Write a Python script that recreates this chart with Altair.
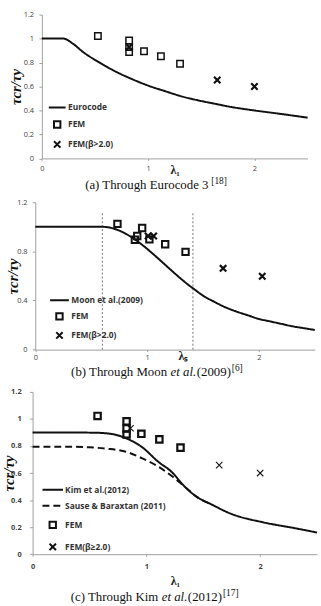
import altair as alt
import pandas as pd

# ---------------- data ----------------
X_TICKS = [0, 1, 2]
Y_TICKS = [0, 0.2, 0.4, 0.6, 0.8, 1.0, 1.2]

# (a) Eurocode 3
A_CURVE_X = [0.0, 0.2, 0.294, 0.387, 0.543, 0.698, 0.853, 1.008, 1.163, 1.318, 1.473, 1.628, 1.783, 2.0, 2.25, 2.5]
A_CURVE_Y = [1.0, 1.0, 0.956, 0.888, 0.80, 0.723, 0.66, 0.605, 0.56, 0.517, 0.484, 0.456, 0.429, 0.40, 0.371, 0.34]
A_FEM_X = [0.527, 0.821, 0.821, 0.821, 0.961, 1.12, 1.30]
A_FEM_Y = [1.022, 0.984, 0.93, 0.888, 0.894, 0.852, 0.79]
A_BETA_X = [0.821, 1.65, 2.0]
A_BETA_Y = [0.93, 0.654, 0.60]
A_SERIES = ["Eurocode", "FEM", "FEM(β>2.0)"]

# (b) Moon et al. (2009)
B_CURVE_X = [0.0, 0.6, 1.41, 1.5, 1.6, 1.7, 1.8, 1.9, 2.0, 2.1, 2.2, 2.3, 2.4, 2.5]
B_CURVE_Y = [1.0, 1.0, 0.50, 0.44, 0.39, 0.345, 0.31, 0.28, 0.25, 0.23, 0.21, 0.19, 0.175, 0.16]
B_FEM_X = [0.735, 0.956, 0.912, 0.891, 1.021, 1.162, 1.344]
B_FEM_Y = [1.024, 0.99, 0.925, 0.895, 0.898, 0.858, 0.796]
B_BETA_X = [1.009, 1.059, 1.68, 2.03]
B_BETA_Y = [0.925, 0.925, 0.662, 0.598]
B_LIMIT_X = [0.6, 1.41]
B_LIMIT_TOP = [1.12, 1.12]
B_SERIES = ["Moon et al.(2009)", "FEM", "FEM(β>2.0)"]

# (c) Kim et al. (2012)
C_KIM_X = [0.0, 0.3, 0.557, 0.701, 0.83, 0.96, 1.105, 1.22, 1.336, 1.45, 1.567, 1.74, 2.03, 2.32, 2.5]
C_KIM_Y = [0.9, 0.9, 0.898, 0.888, 0.854, 0.793, 0.683, 0.61, 0.5, 0.42, 0.37, 0.30, 0.235, 0.19, 0.16]
C_SAUSE_X = [0.0, 0.3, 0.5, 0.65, 0.83, 0.96, 1.105, 1.22, 1.336, 1.45, 1.567]
C_SAUSE_Y = [0.795, 0.795, 0.79, 0.78, 0.755, 0.71, 0.647, 0.58, 0.5, 0.42, 0.37]
C_FEM_X = [0.571, 0.826, 0.826, 0.826, 0.956, 1.114, 1.30]
C_FEM_Y = [1.022, 0.982, 0.93, 0.885, 0.89, 0.849, 0.788]
C_BETA_X = [0.86, 1.64, 2.0]
C_BETA_Y = [0.931, 0.659, 0.60]
C_SERIES = ["Kim et al.(2012)", "Sause & Baraxtan (2011)", "FEM", "FEM(β≥2.0)"]

XPATH = "M-1,-1L1,1M-1,1L1,-1"
SYM = 42
SERIF = "Liberation Serif"
SANS = "Open Sans"
O = 32.3  # common left origin of the concat cells


def line_path(half):
    return f"M-{half},0L{half},0"


def xy(xs, ys, name):
    return pd.DataFrame({"x": xs, "y": ys, "series": [name] * len(xs)})


def build_panel(W, H, shift, top, bottom, curves, fem, beta, series, shapes, dashes,
                fem_sw, beta_sw, leg, xaxis, yaxis, captions, extra_fn=None):
    xs = alt.Scale(domain=[0, 2.5], nice=False, zero=False, range=[shift, shift + W])
    ys = alt.Scale(domain=[0, 1.2], nice=False)
    x = alt.X("x:Q", scale=xs, axis=alt.Axis(
        values=X_TICKS, format="d", title=xaxis["title"], titleX=xaxis["tx"] + shift, titleY=xaxis["ty"],
        titleAlign="center", titleBaseline="middle", titleFont=SERIF, titleFontSize=12,
        titleFontWeight="bold", titleColor="#222", labelFont=SANS, labelFontSize=7.5,
        labelFontWeight=xaxis.get("lw", "normal"),
        labelColor="#444", labelPadding=xaxis["lp"], labelFlush=False, domainColor="#a0a0a0",
        tickColor="#a0a0a0", tickSize=2, grid=False))
    y = alt.Y("y:Q", scale=ys, axis=alt.Axis(
        values=Y_TICKS, format=".1~f", title="τcr/τy", titleX=yaxis["tx"], titleBaseline="middle",
        titleFont=SERIF, titleFontSize=15, titleFontStyle="italic", titleFontWeight="bold",
        titleColor="#111", labelFont=SANS, labelFontSize=7.5, labelFontWeight=yaxis.get("lw", "normal"),
        labelColor="#444", labelPadding=yaxis["lp"], domainColor="#a0a0a0", tickColor="#a0a0a0",
        tickSize=3, grid=False, offset=-shift))
    lg = alt.Legend(title=None, orient="none", legendX=leg["x"] + shift, legendY=leg["y"], padding=0,
                    rowPadding=leg["rp"], labelOffset=leg["lo"], labelFont=SANS, labelFontSize=8.5,
                    labelFontWeight="bold", labelColor="#333", labelLimit=200,
                    symbolStrokeWidth=leg.get("sw", 2), symbolStrokeColor="#111", symbolSize=SYM)
    shape = alt.Shape("series:N", scale=alt.Scale(domain=series, range=shapes), legend=lg)
    dash = alt.StrokeDash("series:N", scale=alt.Scale(domain=series, range=dashes), legend=lg)

    layers = []
    # invisible frame fixing the cell's extents
    layers.append(alt.Chart(pd.DataFrame({"k": [0]})).mark_rule(
        strokeOpacity=0, strokeWidth=0, color="white").encode(
        x=alt.value(-O), y=alt.value(-top), y2=alt.value(bottom)))
    if extra_fn is not None:
        layers.append(extra_fn(x, y))
    layers.append(alt.Chart(curves).mark_line(color="#111", strokeWidth=2, interpolate="monotone").encode(
        x=x, y=y, strokeDash=dash))
    layers.append(alt.Chart(fem).mark_point(filled=False, color="#111", opacity=1, size=SYM,
                                            strokeWidth=fem_sw).encode(x=x, y=y, shape=shape))
    layers.append(alt.Chart(beta).mark_point(filled=False, color="#111", opacity=1, size=SYM,
                                             strokeWidth=beta_sw).encode(x=x, y=y, shape=shape))
    for (txt, cx, cy, fs, style) in captions:
        layers.append(alt.Chart(pd.DataFrame({"t": [txt]})).mark_text(
            align="left", baseline="alphabetic", font=SERIF, fontSize=fs, fontStyle=style,
            color="#111").encode(x=alt.value(cx + shift), y=alt.value(cy), text="t:N"))
    return alt.layer(*layers).properties(width=W + shift, height=H)


# ---------- panel (a) ----------
WA, HA, SA = 269, 145.6, 41.7 - O
pa = build_panel(
    WA, HA, SA, 10.4, 183.6,
    xy(A_CURVE_X, A_CURVE_Y, A_SERIES[0]),
    xy(A_FEM_X, A_FEM_Y, A_SERIES[1]), xy(A_BETA_X, A_BETA_Y, A_SERIES[2]),
    A_SERIES, [line_path(2.62), "square", XPATH], [[1, 0], [1, 0], [1, 0]], 1.5, 2.2,
    {"x": 11, "y": 89.5, "rp": 5.2, "lo": 6.5},
    {"title": "λ₁", "tx": 134.4, "ty": 11, "lp": 4.5},
    {"tx": -26.7, "lp": 5.4},
    [("(a) Through Eurocode 3", 43.8, 176.9, 13, "normal"),
     ("[18]", 171.5, 171.5, 9.5, "normal")])

# ---------- panel (b) ----------
WB, HB, SB = 283, 149.2, 35 - O
limits = pd.DataFrame({"x": B_LIMIT_X, "top": B_LIMIT_TOP, "bot": [0, 0]})


def rules_b(x, y):
    return alt.Chart(limits).mark_rule(color="#777", strokeDash=[2, 2], strokeWidth=1).encode(
        x=x, y=alt.Y("bot:Q", scale=alt.Scale(domain=[0, 1.2], nice=False)), y2="top:Q")


pb = build_panel(
    WB, HB, SB, 5.8, 183.2,
    xy(B_CURVE_X, B_CURVE_Y, B_SERIES[0]),
    xy(B_FEM_X, B_FEM_Y, B_SERIES[1]), xy(B_BETA_X, B_BETA_Y, B_SERIES[2]),
    B_SERIES, [line_path(2.93), "square", XPATH], [[1, 0], [1, 0], [1, 0]], 2, 2.2,
    {"x": 20, "y": 94.7, "rp": 4.3, "lo": 7.5},
    {"title": "λₛ", "tx": 149.6, "ty": 6.5, "lp": 2},
    {"tx": -23, "lp": 5.3},
    [("(b) Through Moon", 36.3, 176.2, 13, "normal"),
     ("et al.", 137, 176.2, 13, "italic"),
     ("(2009)", 163.5, 176.2, 13, "normal"),
     ("[6]", 199, 171, 9.5, "normal")],
    extra_fn=rules_b)

# ---------- panel (c) ----------
WC, HC, SC = 288, 164.3, 0
pc = build_panel(
    WC, HC, SC, 8, 215,
    pd.concat([xy(C_KIM_X, C_KIM_Y, C_SERIES[0]), xy(C_SAUSE_X, C_SAUSE_Y, C_SERIES[1])]),
    xy(C_FEM_X, C_FEM_Y, C_SERIES[2]), xy(C_BETA_X, C_BETA_Y, C_SERIES[3]),
    C_SERIES, [line_path(3.2), line_path(3.2), "square", XPATH],
    [[1, 0], [7, 4], [1, 0], [1, 0]], 2.2, 1.1,
    {"x": 15.9, "y": 94.5, "rp": 7.3, "lo": 8},
    {"title": "λ₁", "tx": 144, "ty": 26.4, "lp": 6, "lw": "bold"},
    {"tx": -24.3, "lp": 8.6, "lw": "bold"},
    [("(c) Through Kim", 38.7, 211.5, 13, "normal"),
     ("et al.", 130.7, 211.5, 13, "italic"),
     ("(2012)", 157.2, 211.5, 13, "normal"),
     ("[17]", 192.7, 206.5, 9.5, "normal")])

chart = alt.vconcat(pa, pb, pc, spacing=0).properties(
    padding={"left": 0, "top": 0, "right": 0, "bottom": 0}, background="white"
).configure_view(stroke=None).resolve_scale(
    x="independent", y="independent", shape="independent", strokeDash="independent")

chart.save("out.html", embed_options={"renderer": "svg", "actions": False})
